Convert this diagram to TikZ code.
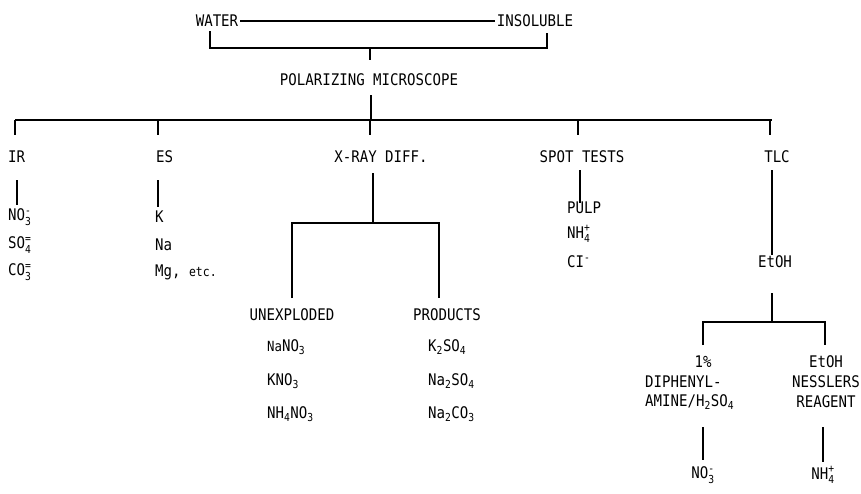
\documentclass[tikz,border=0pt]{standalone}
\usepackage{fontspec}
\setmainfont[FakeStretch=0.88]{DejaVu Sans Mono}
\newcommand\lbl{\fontsize{16}{18}\selectfont}
\newcommand\scr[1]{\mbox{\fontsize{11}{11}\selectfont #1}}
\newcommand\ionsb[2]{\ensuremath{^{\scr{#2}}_{\scr{#1}}}}
\newcommand\sbs[1]{\ensuremath{_{\scr{#1}}}}
\begin{document}
\begin{tikzpicture}[x=1pt,y=-1pt,
  txt/.style={font=\lbl, inner sep=0pt},
  lft/.style={txt, anchor=west},
  wire/.style={line width=1.3pt}]
\useasboundingbox (0,0) rectangle (861,493);
% top
\node[txt] (water) at (217,21) {WATER};
\node[txt] (insol) at (535,21) {INSOLUBLE};
\draw[wire] ([xshift=2pt]water.east) -- ([xshift=-2pt]insol.west);
\coordinate (wb) at (210,48);
\coordinate (ib) at (547,48);
\coordinate (pmt) at (370,60);
\draw[wire] (wb |- 0,31) -- (wb) -- (ib) -- (ib |- 0,33);
\draw[wire] (pmt |- wb) -- (pmt);
\node[txt] (pm) at (369,80) {POLARIZING MICROSCOPE};
% main bar
\coordinate (pmb) at (371,95);
\coordinate (barL) at (15,120);
\coordinate (barR) at (772,120);
\draw[wire] (pmb) -- (pmb |- barL);
\draw[wire] (barL) -- (barR);
\foreach \x/\n in {15/ir,158/es,370/xr,578/sp,770/tl}{
  \coordinate (d\n) at (\x,135);
  \draw[wire] (d\n |- barL) -- (d\n);
}
% labels
\node[lft] (ir) at (8,157) {IR};
\node[lft] (es) at (156,157) {ES};
\node[txt] (xr) at (381,157) {X-RAY DIFF.};
\node[txt] (sp) at (582,157) {SPOT TESTS};
\node[txt] (tl) at (777,157) {TLC};
% second stems
\draw[wire] (17,180) -- (17,205);
\draw[wire] (158,180) -- (158,207);
\draw[wire] (580,170) -- (580,203);
\coordinate (tlb) at (772,255);
\draw[wire] (772,170) -- (tlb);
% IR items
\node[lft] (ir1) at (8,217) {NO\ionsb{3}{-}};
\node[lft] (ir2) at (8,245) {SO\ionsb{4}{=}};
\node[lft] (ir3) at (8,272) {CO\ionsb{3}{=}};
% ES items
\node[lft] (es1) at (155,217) {K};
\node[lft] (es2) at (155,245) {Na};
\node[lft] (es3) at (155,272) {Mg, {\fontsize{13}{14}\selectfont etc.}};
% spot items
\node[lft] (sp1) at (567,208) {PULP};
\node[lft] (sp2) at (567,234) {NH\ionsb{4}{+}};
\node[lft] (sp3) at (567,262) {CI\ensuremath{^{\scr{-}}}};
% x-ray
\coordinate (xj) at (373,223);
\coordinate (xl) at (292,223);
\coordinate (xrr) at (439,223);
\draw[wire] (373,173) -- (xj);
\draw[wire] (xl |- 0,298) -- (xl) -- (xrr) -- (xrr |- 0,298);
\node[txt] (unex) at (292,315) {UNEXPLODED};
\node[txt] (prod) at (447,315) {PRODUCTS};
\node[lft] (u1) at (267,347) {{\fontsize{14}{14}\selectfont Na}NO\sbs{3}};
\node[lft] (u2) at (267,381) {KNO\sbs{3}};
\node[lft] (u3) at (267,414) {NH\sbs{4}NO\sbs{3}};
\node[lft] (p1) at (428,347) {K\sbs{2}SO\sbs{4}};
\node[lft] (p2) at (428,381) {Na\sbs{2}SO\sbs{4}};
\node[lft] (p3) at (428,414) {Na\sbs{2}CO\sbs{3}};
% TLC
\node[txt] (etoh) at (775,262) {EtOH};
\coordinate (tj) at (772,322);
\coordinate (tL) at (703,322);
\coordinate (tR) at (825,322);
\draw[wire] (772,293) -- (tj);
\draw[wire] (tL |- 0,345) -- (tL) -- (tR) -- (tR |- 0,345);
\node[txt] (d0) at (703,362) {1\%};
\node[lft] (d1) at (645,382) {DIPHENYL-};
\node[lft] (d2) at (645,402) {AMINE/H\sbs{2}SO\sbs{4}};
\node[txt] (n0) at (826,362) {EtOH};
\node[txt] (n1) at (826,382) {NESSLERS};
\node[txt] (n2) at (826,402) {REAGENT};
\draw[wire] (703,427) -- (703,460);
\draw[wire] (823,427) -- (823,462);
\node[txt] (r1) at (703,475) {NO\ionsb{3}{-}};
\node[txt] (r2) at (823,475) {NH\ionsb{4}{+}};
\end{tikzpicture}
\end{document}
